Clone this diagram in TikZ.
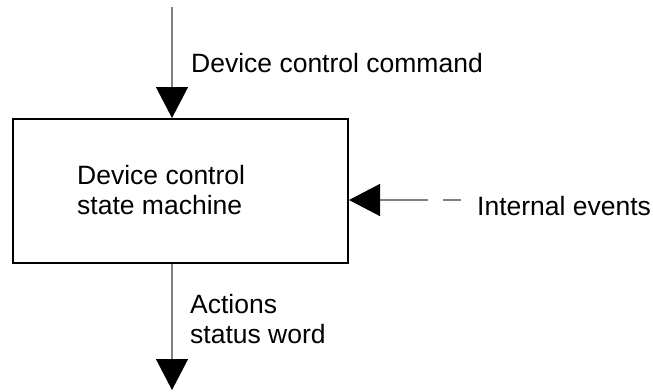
\documentclass[tikz,border=0pt]{standalone}
\usepackage{fontspec}
\setmainfont{Liberation Sans}
\usetikzlibrary{arrows.meta,positioning}
\tikzset{
	flow/.style={draw=gray, line width=1.3bp, -{Triangle[length=31bp, width=32bp, color=black, fill=black]}},
	statebox/.style={draw=black, line width=2bp, minimum width=335bp, minimum height=144bp, inner sep=0},
	lbl/.style={inner sep=0, align=left, font=\fontsize{26.5bp}{30bp}\selectfont}
}

\begin{document}
\begin{tikzpicture}[x=1bp, y=-1bp]
	\useasboundingbox (0,0) rectangle (653,391);

	\node[statebox] (sm) at (180.5,191) {};
	\node[lbl, anchor=west] (smtext) at (77,190.5) {Device control\\state machine};

	\coordinate (cmdin) at (172,7);
	\coordinate (actout) at (172,390);
	\coordinate (evin) at (461,200);

	\node[lbl, anchor=base west] (cmd) at (191,72) {Device control command};
	\node[lbl, anchor=west] (act) at (190,318.7) {Actions\\status word};
	\node[lbl, anchor=base west] (ev) at (477,215) {Internal events};

	\draw[flow] (cmdin) -- (cmdin |- sm.north);
	\draw[flow] (actout |- sm.south) -- (actout);
	\draw[flow, dash pattern=on 18bp off 15bp on 300bp] (evin) -- (evin -| sm.east);
\end{tikzpicture}
\end{document}
